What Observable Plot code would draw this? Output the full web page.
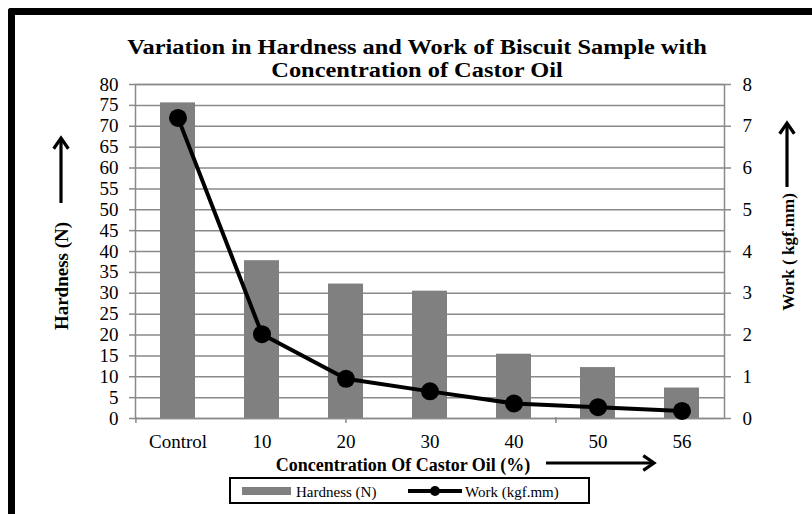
<!DOCTYPE html>
<html><head><meta charset="utf-8">
<script src="https://cdn.jsdelivr.net/npm/d3@7"></script>
<script src="https://cdn.jsdelivr.net/npm/@observablehq/plot@0.6"></script>
<style>
body{margin:0;background:#fff;}
#wrap{position:relative;width:812px;height:514px;overflow:hidden;background:#fff;}
#border{position:absolute;left:8px;top:8px;right:-20px;bottom:-20px;border-left:7px solid #000;border-top:7px solid #000;border-top-left-radius:3px;pointer-events:none;}
</style></head><body><div id="wrap"><div id="border"></div></div>
<script>
const categories = ["Control", "10", "20", "30", "40", "50", "56"];
const hardness = [75.6, 37.8, 32.2, 30.5, 15.4, 12.2, 7.3];
const work = [7.2, 2.02, 0.95, 0.65, 0.36, 0.27, 0.18];
const hardnessTicks = d3.range(0, 81, 5);
const workTicks = d3.range(0, 9, 1);
const titleLines = ["Variation in Hardness and Work of Biscuit Sample with", "Concentration of Castor Oil"];
const xTitle = "Concentration Of Castor Oil (%)";
const yLeftTitle = "Hardness (N)";
const yRightTitle = "Work ( kgf.mm)";
const legendLabels = ["Hardness (N)", "Work (kgf.mm)"];
const xTickMarks = ["Control", "20", "50"];

const data = categories.map((c, i) => ({cat: c, hardness: hardness[i], work: work[i]}));
const ratio = 10; // right axis scaled onto left
const W = 812, H = 514, mL = 135, mR = 88, mT = 84, mB = 96;
const gridColor = "#8a8a8a";
const font = "'Liberation Serif','Times New Roman',serif";
const step = (W - mL - mR) / categories.length;

const plot = Plot.plot({
  width: W, height: H,
  marginLeft: mL, marginRight: mR, marginTop: mT, marginBottom: mB,
  style: {fontFamily: font, fontSize: "19px", color: "#000", background: "transparent", overflow: "visible"},
  x: {domain: categories, paddingInner: 0.58, paddingOuter: 0.29, label: null},
  y: {domain: [0, 80], label: null},
  marks: [
    Plot.gridY(hardnessTicks, {stroke: gridColor, strokeOpacity: 1, strokeWidth: 1.5}),
    Plot.barY(data, {x: "cat", y: "hardness", fill: "#808080"}),
    Plot.frame({stroke: gridColor, strokeWidth: 1.5}),
    Plot.ruleX(xTickMarks, {x: d => d, y1: 0, y2: 0, insetTop: -1, insetBottom: -5, stroke: gridColor, strokeWidth: 1.5}),
    Plot.axisY(hardnessTicks, {anchor: "left", tickSize: 6, tickPadding: 11, stroke: gridColor, strokeWidth: 1.5, label: null, fontSize: 19}),
    Plot.axisY(workTicks.map(v => v * ratio), {anchor: "right", tickFormat: d => d / ratio, tickSize: 6, tickPadding: 12, stroke: gridColor, strokeWidth: 1.5, label: null, fontSize: 19}),
    Plot.axisX({tickSize: 0, tickPadding: 16, label: null, fontSize: 19}),
    Plot.line(data, {x: "cat", y: d => d.work * ratio, stroke: "#000", strokeWidth: 4}),
    Plot.dot(data, {x: "cat", y: d => d.work * ratio, r: 9, fill: "#000", stroke: "none"})
  ]
});
document.getElementById("wrap").appendChild(plot);

const svg = d3.select(plot);
// shift x tick marks to where the reference shows them (Control left edge, 20 centre, 50 left edge)
const offsets = {"Control": -step / 2, "20": 0, "50": -step / 2};
svg.selectAll("g[aria-label='rule'] line").each(function(d, i) {
  d3.select(this).attr("transform", `translate(${offsets[xTickMarks[i]]},0)`);
});

const g = svg.append("g").style("font-family", font).attr("fill", "#000").attr("text-anchor", "start");
// title (horizontally stretched like the reference)
titleLines.forEach((t, i) => {
  g.append("text").attr("transform", `translate(417,${54 + i * 23}) scale(1.19,1)`).attr("text-anchor", "middle")
    .attr("font-weight", "bold").attr("font-size", 20.5).text(t);
});
// x title
g.append("text").attr("x", 403).attr("y", 471).attr("text-anchor", "middle")
  .attr("font-weight", "bold").attr("font-size", 18).text(xTitle);
// y titles
g.append("text").attr("transform", "translate(68,276) rotate(-90)").attr("text-anchor", "middle")
  .attr("font-weight", "bold").attr("font-size", 19).text(yLeftTitle);
g.append("text").attr("transform", "translate(794,252) rotate(-90)").attr("text-anchor", "middle")
  .attr("font-weight", "bold").attr("font-size", 17).text(yRightTitle);

// arrows
function arrow(x1, y1, x2, y2) {
  const a = Math.atan2(y2 - y1, x2 - x1), L = 13, s = 0.6;
  g.append("line").attr("x1", x1).attr("y1", y1).attr("x2", x2).attr("y2", y2)
    .attr("stroke", "#000").attr("stroke-width", 3.2);
  const p1 = [x2 - L * Math.cos(a - s), y2 - L * Math.sin(a - s)];
  const p2 = [x2 - L * Math.cos(a + s), y2 - L * Math.sin(a + s)];
  g.append("path").attr("d", `M${p1}L${x2},${y2}L${p2}`).attr("fill", "none")
    .attr("stroke", "#000").attr("stroke-width", 3.2).attr("stroke-linejoin", "miter");
}
arrow(61, 203, 61, 138);
arrow(787, 187, 787, 123);
arrow(546, 463, 654, 463);

// legend
const lg = g.append("g");
lg.append("rect").attr("x", 230).attr("y", 478).attr("width", 359).attr("height", 25)
  .attr("fill", "#fff").attr("stroke", "#000").attr("stroke-width", 2);
lg.append("rect").attr("x", 242).attr("y", 487).attr("width", 49).attr("height", 8).attr("fill", "#808080");
lg.append("text").attr("x", 296).attr("y", 497).attr("text-anchor", "start").attr("font-size", 15).text(legendLabels[0]);
lg.append("line").attr("x1", 408).attr("x2", 462).attr("y1", 491).attr("y2", 491).attr("stroke", "#000").attr("stroke-width", 4);
lg.append("circle").attr("cx", 435).attr("cy", 491).attr("r", 5).attr("fill", "#000");
lg.append("text").attr("x", 465).attr("y", 497).attr("text-anchor", "start").attr("font-size", 15).text(legendLabels[1]);
</script>
</body></html>
